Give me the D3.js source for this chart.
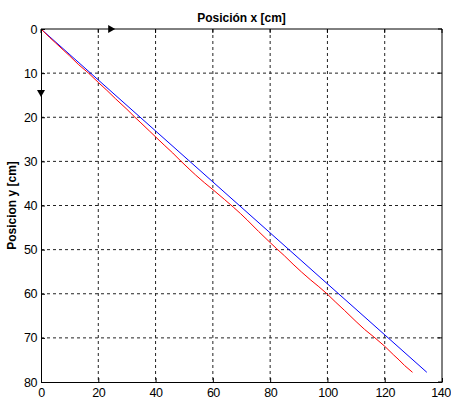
<!DOCTYPE html>
<html>
<head>
<meta charset="utf-8">
<script src="https://cdn.jsdelivr.net/npm/d3@7"></script>
<style>
  body { margin: 0; background: #fff; }
  svg { display: block; font-family: "Liberation Sans", Arial, sans-serif; }
</style>
</head>
<body>
<div id="chart"></div>
<script>
// data
var xTicks = [0, 20, 40, 60, 80, 100, 120, 140];
var yTicks = [0, 10, 20, 30, 40, 50, 60, 70, 80];

// blue: straight reference path
var blueX = [0, 134.7];
var blueY = [0, 77.8];

// red: measured path
var redX = [0, 3, 5, 8, 10, 13, 16.6, 20, 23, 26, 30, 32.8, 34.6, 38, 43, 46, 48.6, 52, 54, 57, 60, 64, 67.2, 69.6, 72, 76, 80, 82.3, 85, 88, 91, 94, 97, 100, 102.7, 106, 110, 113, 116.6, 120, 123, 125, 127, 129.7];
var redY = [0, 1.9, 3.1, 4.9, 6.1, 8.0, 10, 12.1, 13.9, 15.8, 18.2, 20, 21.1, 23.2, 26.3, 28.1, 29.8, 31.9, 33.1, 34.8, 36.4, 38.6, 40.4, 41.8, 43.3, 45.9, 48.4, 49.8, 51.4, 53.3, 55.1, 56.8, 58.4, 60.1, 61.8, 63.8, 66.3, 68.1, 70, 71.9, 73.8, 75, 76.3, 77.8];

var width = 451, height = 401;
var margin = { top: 29, right: 9, bottom: 19, left: 41 };

var svg = d3.select("#chart").append("svg")
    .attr("width", width)
    .attr("height", height);

var x = d3.scaleLinear().domain([0, 140]).range([margin.left, width - margin.right]);
var y = d3.scaleLinear().domain([0, 80]).range([margin.top, height - margin.bottom]);

// grid
svg.append("g").selectAll("line").data(xTicks.slice(1, -1)).enter().append("line")
    .attr("x1", d => x(d)).attr("x2", d => x(d))
    .attr("y1", y(0)).attr("y2", y(80))
    .attr("stroke", "#222").attr("stroke-dasharray", "3,3");
svg.append("g").selectAll("line").data(yTicks.slice(1, -1)).enter().append("line")
    .attr("y1", d => y(d)).attr("y2", d => y(d))
    .attr("x1", x(0)).attr("x2", x(140))
    .attr("stroke", "#222").attr("stroke-dasharray", "3,3");

// lines
var line = d3.line().x(d => x(d[0])).y(d => y(d[1]));
svg.append("path")
    .datum(blueX.map((v, i) => [v, blueY[i]]))
    .attr("d", line).attr("fill", "none").attr("stroke", "#0000ff").attr("stroke-width", 1);
svg.append("path")
    .datum(redX.map((v, i) => [v, redY[i]]))
    .attr("d", line).attr("fill", "none").attr("stroke", "#ff0000").attr("stroke-width", 1);

// axes (matlab style: ticks inside, box around)
var xAxis = d3.axisBottom(x).tickValues(xTicks).tickSizeInner(-4).tickSizeOuter(0).tickPadding(6);
var yAxis = d3.axisLeft(y).tickValues(yTicks).tickSizeInner(-4).tickSizeOuter(0).tickPadding(7);

var gx = svg.append("g").attr("transform", "translate(0," + y(80) + ")").call(xAxis);
var gy = svg.append("g").attr("transform", "translate(" + x(0) + ",0)").call(yAxis);
[gx, gy].forEach(g => {
    g.selectAll("text").style("font-size", "12.5px").style("letter-spacing", "-0.5px").attr("fill", "#000");
    g.select(".domain").attr("stroke", "#000");
});
gy.selectAll("text").attr("x", -4);
// last x label sits right against the window edge
gx.selectAll("text").filter(d => d === 140).attr("dx", "-1.5");

// box top and right
svg.append("line").attr("x1", x(0)).attr("x2", x(140)).attr("y1", y(0)).attr("y2", y(0)).attr("stroke", "#000");
svg.append("line").attr("x1", x(140)).attr("x2", x(140)).attr("y1", y(0)).attr("y2", y(80)).attr("stroke", "#000");
svg.append("g").selectAll("line").data(yTicks).enter().append("line")
    .attr("x1", x(140)).attr("x2", x(140) - 4)
    .attr("y1", d => y(d)).attr("y2", d => y(d)).attr("stroke", "#000");
svg.append("g").selectAll("line").data(xTicks).enter().append("line")
    .attr("x1", d => x(d)).attr("x2", d => x(d))
    .attr("y1", y(0)).attr("y2", y(0) + 4).attr("stroke", "#000");

// direction arrows
var ax = x(24.5), ay = y(0);
svg.append("path")
    .attr("d", "M" + (ax - 3) + "," + (ay - 4) + "L" + (ax + 4) + "," + ay + "L" + (ax - 3) + "," + (ay + 4) + "Z")
    .attr("fill", "#000");
var bx = x(0), by = y(14.5);
svg.append("path")
    .attr("d", "M" + (bx - 4) + "," + (by - 3) + "L" + bx + "," + (by + 4) + "L" + (bx + 4) + "," + (by - 3) + "Z")
    .attr("fill", "#000");

// titles
svg.append("text")
    .attr("x", (x(0) + x(140)) / 2).attr("y", 22)
    .attr("text-anchor", "middle")
    .style("font-size", "12px").style("font-weight", "bold")
    .text("Posición x [cm]");
svg.append("text")
    .attr("transform", "translate(16," + (y(0) + y(80)) / 2 + ") rotate(-90)")
    .attr("text-anchor", "middle")
    .style("font-size", "12px").style("font-weight", "bold")
    .text("Posicion y [cm]");
</script>
</body>
</html>
